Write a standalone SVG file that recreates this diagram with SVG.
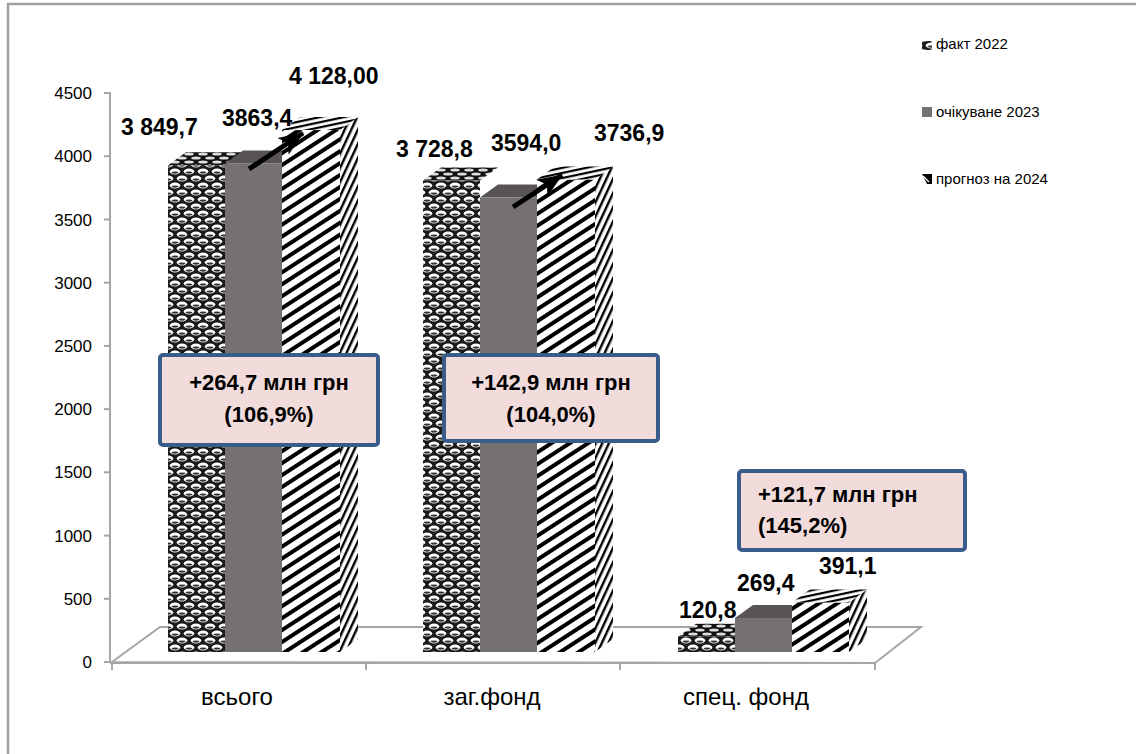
<svg xmlns="http://www.w3.org/2000/svg" width="1136" height="754" viewBox="0 0 1136 754">
<style>
.ax{font-family:"Liberation Sans",Arial,sans-serif;font-size:17px;fill:#000;text-anchor:end}
.cat{font-family:"Liberation Sans",Arial,sans-serif;font-size:24px;fill:#000;text-anchor:middle}
.lbl{font-family:"Liberation Sans",Arial,sans-serif;font-size:23px;font-weight:bold;fill:#000}
.lg{font-family:"Liberation Sans",Arial,sans-serif;font-size:15px;fill:#000}
.bx{font-family:"Liberation Sans",Arial,sans-serif;font-size:22px;font-weight:bold;fill:#000}
.box{fill:#F2DCDB;stroke:#385D8A;stroke-width:4}
.axl{stroke:#A6A6A6;stroke-width:2;fill:none}
.grf{fill:#767171}
.grt{fill:#595454}
.arr{stroke:#000;stroke-width:5;fill:none}
</style>
<defs>
<pattern id="sph" width="14" height="14" patternUnits="userSpaceOnUse">
<rect width="14" height="14" fill="#1a1a1a"/>
<ellipse cx="7" cy="3.5" rx="5.3" ry="2.9" fill="#fff"/>
<ellipse cx="0" cy="10.5" rx="5.3" ry="2.9" fill="#fff"/>
<ellipse cx="14" cy="10.5" rx="5.3" ry="2.9" fill="#fff"/>
<ellipse cx="7" cy="4.6" rx="3.3" ry="1.1" fill="#333"/>
<ellipse cx="0" cy="11.6" rx="3.3" ry="1.1" fill="#333"/>
<ellipse cx="14" cy="11.6" rx="3.3" ry="1.1" fill="#333"/>
</pattern>
<pattern id="sphd" width="14" height="8" patternUnits="userSpaceOnUse">
<rect width="14" height="8" fill="#111"/>
<ellipse cx="7" cy="2" rx="4.8" ry="1.6" fill="#ddd"/>
<ellipse cx="0" cy="6" rx="4.8" ry="1.6" fill="#ddd"/>
<ellipse cx="14" cy="6" rx="4.8" ry="1.6" fill="#ddd"/>
</pattern>
<pattern id="hf" width="10" height="10" patternUnits="userSpaceOnUse" patternTransform="rotate(-33)">
<rect width="10" height="10" fill="#fff"/>
<rect width="10" height="4" fill="#000"/>
</pattern>
<pattern id="hs" width="6" height="6" patternUnits="userSpaceOnUse" patternTransform="rotate(-65)">
<rect width="6" height="6" fill="#fff"/>
<rect width="6" height="2.4" fill="#000"/>
</pattern>
<pattern id="ht" width="5" height="5" patternUnits="userSpaceOnUse" patternTransform="rotate(-12)">
<rect width="5" height="5" fill="#fff"/>
<rect width="5" height="2.2" fill="#000"/>
</pattern>
<marker id="ah" markerUnits="userSpaceOnUse" markerWidth="26" markerHeight="22" refX="24" refY="11" orient="auto">
<path d="M0,1 L25,11 L0,21 L6,11 Z" fill="#000"/>
</marker>
</defs>
<rect width="1136" height="754" fill="#fff"/>
<path d="M8,754 V4 H1136" fill="none" stroke="#A0A0A0" stroke-width="2.5"/>

<g id="axes">
<polygon class="axl" points="112,662 160,627 921,627 875,663" fill="#fff"/>
<line class="axl" x1="110" y1="92" x2="110" y2="663"/>
<line class="axl" x1="110" y1="663" x2="875" y2="663"/>
<g class="axl">
<line x1="104" y1="662" x2="110" y2="662"/>
<line x1="104" y1="598.8" x2="110" y2="598.8"/>
<line x1="104" y1="535.6" x2="110" y2="535.6"/>
<line x1="104" y1="472.3" x2="110" y2="472.3"/>
<line x1="104" y1="409.1" x2="110" y2="409.1"/>
<line x1="104" y1="345.9" x2="110" y2="345.9"/>
<line x1="104" y1="282.7" x2="110" y2="282.7"/>
<line x1="104" y1="219.5" x2="110" y2="219.5"/>
<line x1="104" y1="156.2" x2="110" y2="156.2"/>
<line x1="104" y1="93" x2="110" y2="93"/>
<line x1="112" y1="663" x2="112" y2="670"/>
<line x1="366" y1="663" x2="366" y2="670"/>
<line x1="620" y1="663" x2="620" y2="670"/>
<line x1="875" y1="663" x2="875" y2="670"/>
</g>
<text class="ax" x="92" y="668">0</text>
<text class="ax" x="92" y="604.8">500</text>
<text class="ax" x="92" y="541.6">1000</text>
<text class="ax" x="92" y="478.3">1500</text>
<text class="ax" x="92" y="415.1">2000</text>
<text class="ax" x="92" y="351.9">2500</text>
<text class="ax" x="92" y="288.7">3000</text>
<text class="ax" x="92" y="225.5">3500</text>
<text class="ax" x="92" y="162.2">4000</text>
<text class="ax" x="92" y="99">4500</text>
<text class="cat" x="237" y="705">всього</text>
<text class="cat" x="492" y="705">заг.фонд</text>
<text class="cat" x="746" y="705">спец. фонд</text>
</g>

<g id="bars-vsogo">
<rect x="168" y="165.2" width="57" height="486.8" fill="url(#sph)"/>
<polygon points="168,165.2 225,165.2 243,152.2 186,152.2" fill="url(#sphd)"/>
<rect class="grf" x="225" y="163.5" width="57" height="488.5"/>
<polygon class="grt" points="225,163.5 282,163.5 300,150.5 243,150.5"/>
<polygon points="340,130.1 358,117.1 358,639 340,652" fill="url(#hs)"/>
<rect x="282" y="130.1" width="58" height="521.9" fill="url(#hf)"/>
<polygon points="282,130.1 340,130.1 358,117.1 300,117.1" fill="url(#ht)"/>
</g>

<g id="bars-zag">
<rect x="423" y="180.5" width="57" height="471.5" fill="url(#sph)"/>
<polygon points="423,180.5 480,180.5 498,167.5 441,167.5" fill="url(#sphd)"/>
<rect class="grf" x="480" y="197.6" width="57" height="454.4"/>
<polygon class="grt" points="480,197.6 537,197.6 555,184.6 498,184.6"/>
<polygon points="595,179.5 613,166.5 613,639 595,652" fill="url(#hs)"/>
<rect x="537" y="179.5" width="58" height="472.5" fill="url(#hf)"/>
<polygon points="537,179.5 595,179.5 613,166.5 555,166.5" fill="url(#ht)"/>
</g>

<g id="bars-spec">
<rect x="678" y="636.7" width="57" height="15.3" fill="url(#sph)"/>
<polygon points="678,636.7 735,636.7 753,623.7 696,623.7" fill="url(#sphd)"/>
<rect class="grf" x="735" y="617.9" width="57" height="34.1"/>
<polygon class="grt" points="735,617.9 792,617.9 810,604.9 753,604.9"/>
<polygon points="849,602.5 867,589.5 867,639 849,652" fill="url(#hs)"/>
<rect x="792" y="602.5" width="57" height="49.5" fill="url(#hf)"/>
<polygon points="792,602.5 849,602.5 867,589.5 810,589.5" fill="url(#ht)"/>
</g>

<g id="labels">
<text class="lbl" x="121" y="135">3 849,7</text>
<text class="lbl" x="222" y="126">3863,4</text>
<text class="lbl" x="289" y="84">4 128,00</text>
<text class="lbl" x="396" y="157">3 728,8</text>
<text class="lbl" x="491" y="151">3594,0</text>
<text class="lbl" x="594" y="141">3736,9</text>
<text class="lbl" x="679" y="618">120,8</text>
<text class="lbl" x="737" y="591">269,4</text>
<text class="lbl" x="819" y="574">391,1</text>
</g>

<g id="connectors">
<line class="arr" x1="249" y1="169" x2="303" y2="133" marker-end="url(#ah)"/>
<line class="arr" x1="513" y1="207" x2="562" y2="175" marker-end="url(#ah)"/>
</g>

<g id="box1">
<rect class="box" x="160" y="355" width="218" height="90" rx="3"/>
<text class="bx" x="269" y="390" text-anchor="middle">+264,7 млн грн</text>
<text class="bx" x="269" y="422" text-anchor="middle">(106,9%)</text>
</g>
<g id="box2">
<rect class="box" x="444" y="355" width="214" height="86" rx="3"/>
<text class="bx" x="551" y="390" text-anchor="middle">+142,9 млн грн</text>
<text class="bx" x="551" y="422" text-anchor="middle">(104,0%)</text>
</g>
<g id="box3">
<rect class="box" x="739" y="471" width="226" height="79" rx="3"/>
<text class="bx" x="758" y="502">+121,7 млн грн</text>
<text class="bx" x="758" y="533">(145,2%)</text>
</g>

<g id="legend">
<rect x="922" y="41" width="10" height="9" rx="2" fill="url(#sph)"/>
<text class="lg" x="936" y="49">факт 2022</text>
<rect class="grf" x="922" y="107" width="10" height="10"/>
<text class="lg" x="936" y="117">очікуване 2023</text>
<polygon points="922,174 932,174 932,184 927,184" fill="#000"/>
<path d="M923,176 L929,182" stroke="#fff" stroke-width="1.2"/>
<text class="lg" x="936" y="184">прогноз на 2024</text>
</g>
</svg>
